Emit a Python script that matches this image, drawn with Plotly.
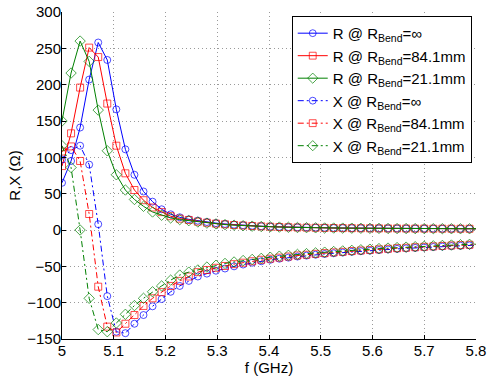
import plotly.graph_objects as go

freq = [5.0, 5.0175, 5.035, 5.0525, 5.07, 5.0875, 5.105, 5.1225, 5.14, 5.1575,
        5.175, 5.1925, 5.21, 5.2275, 5.245, 5.2625, 5.28, 5.2975, 5.315, 5.3325,
        5.35, 5.3675, 5.385, 5.4025, 5.42, 5.4375, 5.455, 5.4725, 5.49, 5.5075,
        5.525, 5.5425, 5.56, 5.5775, 5.595, 5.6125, 5.63, 5.6475, 5.665, 5.6825,
        5.7, 5.7175, 5.735, 5.7525, 5.77, 5.7875, 5.8]

R_inf = [65, 95, 141, 207, 258, 234, 166, 111, 76, 53, 39, 28.5, 21.6, 17.5, 14.7, 12.8,
         11, 9.5, 8.3, 7.3, 6.5, 5.8, 5.2, 4.7, 4.3, 3.9, 3.6, 3.4, 3.2, 3.0, 2.8,
         2.7, 2.6, 2.5, 2.4, 2.3, 2.2, 2.1, 2.0, 2.0, 1.9, 1.9, 1.8, 1.8, 1.7, 1.7, 1.7]
R_84 = [88, 133, 196, 251, 238, 174, 116, 78, 55, 41, 31, 24.6, 19, 15.6, 13.8, 11.5,
        10, 8.8, 7.8, 6.9, 6.2, 5.5, 5.0, 4.5, 4.1, 3.8, 3.5, 3.3, 3.1, 2.9, 2.7,
        2.6, 2.5, 2.4, 2.3, 2.2, 2.1, 2.1, 2.0, 1.9, 1.9, 1.8, 1.8, 1.8, 1.7, 1.7, 1.7]
R_21 = [150, 216, 260, 232, 165, 109, 76, 55, 42, 32.6, 24.8, 20.3, 16.6, 14.3, 12.8, 11,
        9.5, 8.4, 7.4, 6.6, 5.9, 5.3, 4.8, 4.4, 4.0, 3.7, 3.4, 3.2, 3.0, 2.8, 2.7,
        2.6, 2.5, 2.4, 2.3, 2.2, 2.1, 2.0, 2.0, 1.9, 1.9, 1.8, 1.8, 1.7, 1.7, 1.7, 1.7]

X_inf = [97, 110, 116, 90, 8, -91, -140, -142, -129, -117, -105, -95, -85, -77, -70, -64,
         -60, -56, -53, -50, -47.5, -45, -43, -41, -39.5, -38, -36.5, -35.2, -34, -33, -32,
         -31, -30, -29.2, -28.4, -27.6, -26.8, -26, -25.3, -24.6, -24, -23.4, -22.8, -22.2,
         -21.7, -21.2, -20.8]
X_84 = [108, 115, 95, 22, -78, -133, -141, -129, -117, -104.5, -94, -85.5, -77, -70, -64, -58,
        -55, -52, -49.5, -47, -45, -43, -41, -39.5, -38, -36.5, -35, -34, -32.8, -31.8, -30.8,
        -30, -29, -28.2, -27.4, -26.6, -25.8, -25, -24.4, -23.7, -23.1, -22.5, -21.9, -21.3,
        -20.8, -20.3, -20]
X_21 = [116, 86, 0, -94, -137, -140, -128, -116, -104, -94, -85, -77, -69, -62, -58, -55,
        -51, -48.5, -46, -44, -42, -40.5, -39, -37.5, -36, -34.8, -33.6, -32.5, -31.5, -30.5,
        -29.6, -28.8, -28, -27.2, -26.4, -25.6, -24.9, -24.2, -23.6, -23, -22.4, -21.8, -21.2,
        -20.7, -20.2, -19.7, -19.4]

names = ["R @ R<sub>Bend</sub>=∞", "R @ R<sub>Bend</sub>=84.1mm", "R @ R<sub>Bend</sub>=21.1mm",
         "X @ R<sub>Bend</sub>=∞", "X @ R<sub>Bend</sub>=84.1mm", "X @ R<sub>Bend</sub>=21.1mm"]
x_ticks = [5, 5.1, 5.2, 5.3, 5.4, 5.5, 5.6, 5.7, 5.8]
x_tick_labels = ["5", "5.1", "5.2", "5.3", "5.4", "5.5", "5.6", "5.7", "5.8"]
y_ticks = [-150, -100, -50, 0, 50, 100, 150, 200, 250, 300]

series = [R_inf, R_84, R_21, X_inf, X_84, X_21]
colors = ["#0000ff", "#ff0000", "#008000"] * 2
symbols = ["circle-open", "square-open", "diamond-open"] * 2
msizes = [7, 7, 8] * 2
dashes = ["solid"] * 3 + ["6px,3px,2px,3px"] * 3

FONT = "Liberation Sans, Arial, Helvetica, sans-serif"

fig = go.Figure()
for vals, name, c, s, ms, d in zip(series, names, colors, symbols, msizes, dashes):
    sizes = [ms] * (len(freq) - 1) + [0]
    fig.add_trace(go.Scatter(
        x=freq, y=vals, name=name, mode="lines+markers",
        line=dict(color=c, width=1, dash=d),
        marker=dict(symbol=s, size=sizes, color=c, line=dict(color=c, width=1)),
    ))

fig.update_layout(
    width=490, height=376,
    margin=dict(l=62, r=14, t=12, b=37, autoexpand=False),
    paper_bgcolor="white", plot_bgcolor="white",
    font=dict(family=FONT, size=15, color="black"),
    showlegend=True,
    legend=dict(
        x=0.9897, xanchor="right", y=0.988, yanchor="top",
        bgcolor="white", bordercolor="black", borderwidth=1,
        font=dict(family=FONT, size=15, color="black"),
        tracegroupgap=0, itemwidth=30,
    ),
)
fig.update_xaxes(
    range=[5, 5.8], tickvals=x_ticks, ticktext=x_tick_labels,
    showline=True, linecolor="black", linewidth=1, mirror=False,
    ticks="inside", ticklen=4, tickcolor="black", ticklabelstandoff=-2,
    showgrid=True, gridcolor="#9a9a9a", gridwidth=1, griddash="1px,3px",
    zeroline=False, automargin=False,
    title=dict(text="f (GHz)", standoff=2, font=dict(family=FONT, size=15)),
    tickfont=dict(family=FONT, size=15),
)
fig.update_yaxes(
    range=[-150, 300], tickvals=y_ticks,
    showline=True, linecolor="black", linewidth=1, mirror=False,
    ticks="inside", ticklen=4, tickcolor="black", ticklabelstandoff=-3,
    showgrid=True, gridcolor="#9a9a9a", gridwidth=1, griddash="1px,3px",
    zeroline=False, automargin=False,
    title=dict(text="R,X (Ω)", standoff=2, font=dict(family=FONT, size=15)),
    tickfont=dict(family=FONT, size=15),
)

fig.write_html("out.html",
               config={"displayModeBar": False},
               post_script="document.body.style.margin='0px';document.body.style.overflow='hidden';")
